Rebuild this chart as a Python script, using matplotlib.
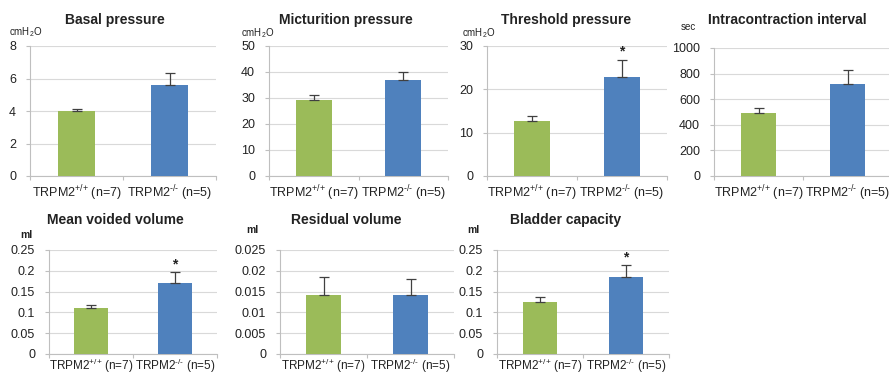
import numpy as np
import matplotlib
matplotlib.use("Agg")
import matplotlib.pyplot as plt

plt.rcParams['font.family'] = ['Liberation Sans', 'DejaVu Sans']
plt.rcParams['mathtext.fontset'] = 'custom'
plt.rcParams['mathtext.rm'] = 'Liberation Sans'
plt.rcParams['mathtext.it'] = 'Liberation Sans:italic'
plt.rcParams['mathtext.bf'] = 'Liberation Sans:bold'

groups = ["TRPM2$^{\\text{+/+}}$ (n=7)", "TRPM2$^{\\text{-/-}}$ (n=5)"]
colors = ["#9BBB59", "#4F81BD"]

titles = ["Basal pressure", "Micturition pressure", "Threshold pressure",
          "Intracontraction interval", "Mean voided volume", "Residual volume",
          "Bladder capacity"]
units = ["cmH$_2$O", "cmH$_2$O", "cmH$_2$O", "sec", "ml", "ml", "ml"]
means = [[4.0, 5.6], [29.3, 37.0], [12.7, 22.8], [490, 715],
         [0.110, 0.171], [0.0143, 0.0141], [0.125, 0.186]]
sems = [[0.15, 0.75], [1.9, 3.0], [1.2, 4.0], [45, 113],
        [0.008, 0.025], [0.0043, 0.0039], [0.011, 0.027]]
ymax = [8, 50, 30, 1000, 0.25, 0.025, 0.25]
ystep = [2, 10, 10, 200, 0.05, 0.005, 0.05]
yticklabels = [None, None, None, None,
               ["0", "0.05", "0.1", "0.15", "0.2", "0.25"],
               ["0", "0.005", "0.01", "0.015", "0.02", "0.025"],
               ["0", "0.05", "0.1", "0.15", "0.2", "0.25"]]
significant = [False, False, True, False, True, False, True]

W, H = 889, 378
fig = plt.figure(figsize=(W / 100, H / 100), dpi=100)

# axes rectangles in pixels: left, right, top, bottom
rects = [(30, 216, 46, 176), (269, 448, 46, 176), (487, 667, 46, 176),
         (714, 892, 48, 176), (49, 217, 250, 354), (280, 454, 250, 354),
         (497, 669, 250, 354)]
# title centers, unit label positions (pixels)
title_pos = [(115, 20), (346, 20), (566, 20), (787, 20),
             (115, 220), (346, 220), (566, 220)]
unit_pos = [(26, 32), (258, 33), (479, 33), (688, 27),
            (26, 235), (252, 230), (473, 230)]

for i in range(7):
    l, r, t, b = rects[i]
    ax = fig.add_axes([l / W, 1 - b / H, (r - l) / W, (b - t) / H])
    x = np.arange(2)
    ax.bar(x, means[i], width=0.4, color=colors, zorder=3)
    ax.errorbar(x, means[i], yerr=[[0, 0], sems[i]], fmt="none",
                ecolor="#404040", elinewidth=0.9, capsize=3.5, capthick=0.9, zorder=4)
    ax.set_xlim(-0.5, 1.5)
    ax.set_ylim(0, ymax[i])
    ticks = np.arange(0, ymax[i] + ystep[i] / 2, ystep[i])
    ax.set_yticks(ticks)
    if yticklabels[i] is not None:
        ax.set_yticklabels(yticklabels[i])
    ax.yaxis.grid(True, color="#D9D9D9", linewidth=0.8, zorder=0)
    ax.set_axisbelow(True)
    for s in ["top", "right"]:
        ax.spines[s].set_visible(False)
    for s in ["left", "bottom"]:
        ax.spines[s].set_color("#BFBFBF")
        ax.spines[s].set_linewidth(0.8)
    ax.tick_params(axis="y", length=3, width=0.8, color="#BFBFBF",
                   labelsize=9, pad=7, labelcolor="#222222")
    ax.set_xticks([-0.5, 0.5, 1.5])
    ax.set_xticklabels([])
    ax.tick_params(axis="x", length=3, color="#BFBFBF", width=0.8)
    ax.set_xticks(x, minor=True)
    ax.set_xticklabels(groups, minor=True)
    ax.tick_params(axis="x", which="minor", length=0,
                   labelsize=9 if i < 4 else 8.5,
                   pad=5 if i < 4 else 2, labelcolor="#222222")
    if significant[i]:
        ax.annotate("*", (1, means[i][1] + sems[i][1]), xytext=(0, 1),
                    textcoords="offset points", ha="center", va="bottom",
                    fontsize=10, fontweight="bold", color="#222222")
    tx, ty = title_pos[i]
    fig.text(tx / W, 1 - ty / H, titles[i], ha="center", va="center",
             fontsize=10, fontweight="bold", color="#222222")
    ux, uy = unit_pos[i]
    fig.text(ux / W, 1 - uy / H, units[i], ha="center", va="center",
             fontsize=7 if units[i] != "ml" else 7.5,
             fontweight="bold" if units[i] == "ml" else "normal", color="#222222")

fig.savefig("out.png", dpi=100)
